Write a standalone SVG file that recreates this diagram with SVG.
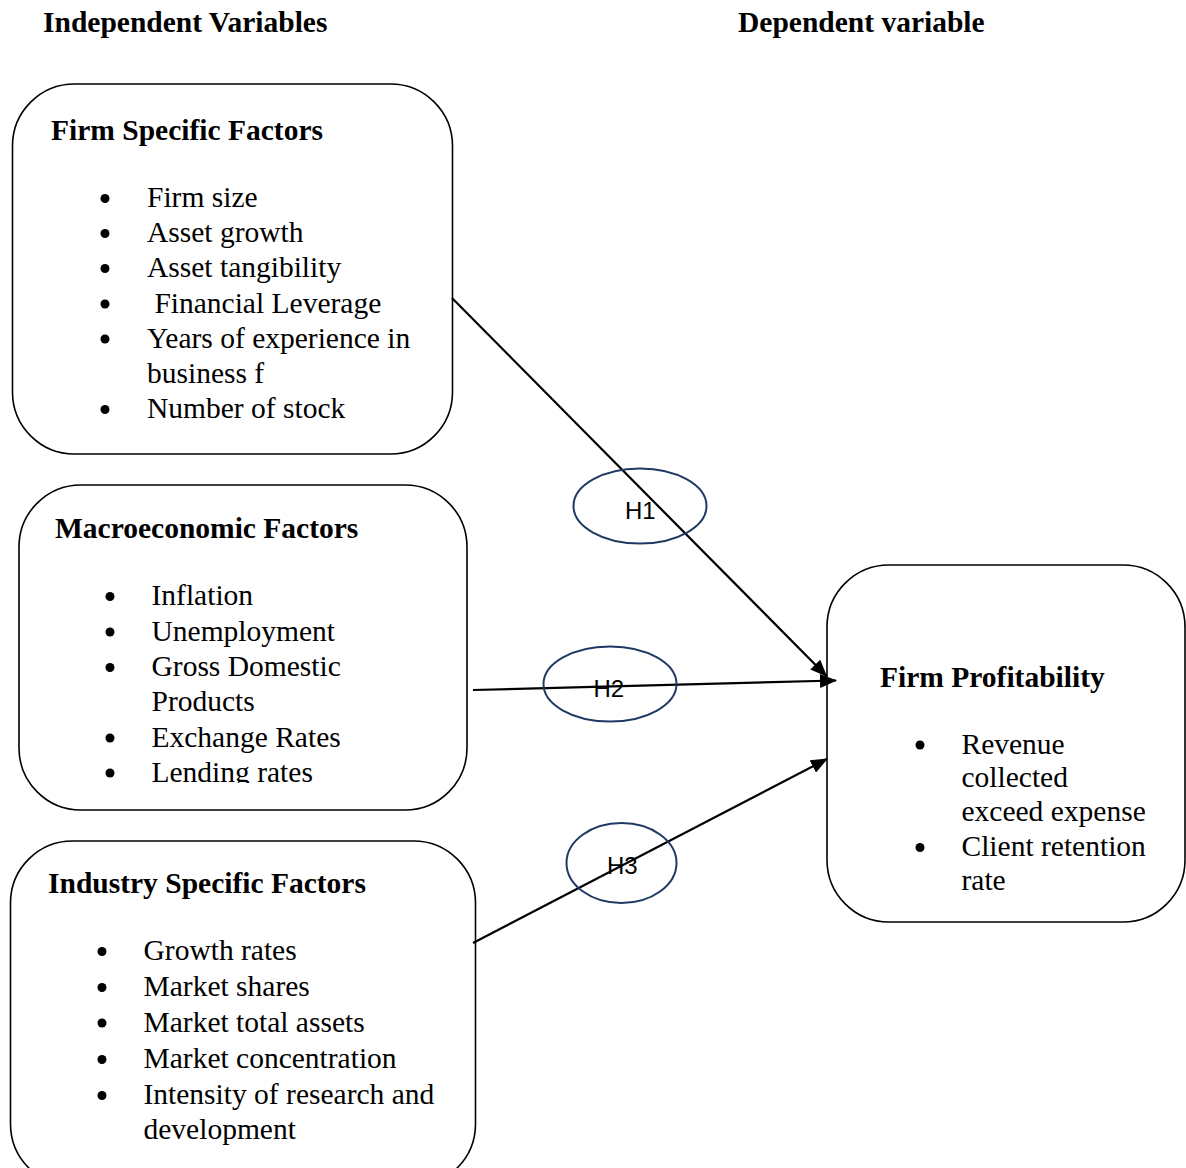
<svg xmlns="http://www.w3.org/2000/svg" width="1186" height="1168" viewBox="0 0 1186 1168">
<style>
.box{fill:none;stroke:#000;stroke-width:1.6}
.t{font-family:"Liberation Serif","Times New Roman",serif;font-size:29.5px;fill:#000}
.b{font-weight:bold}
.h{font-family:"Liberation Sans",Arial,sans-serif;font-size:24px;fill:#000}
.ell{fill:none;stroke:#1f3864;stroke-width:2}
.con{fill:none;stroke:#000;stroke-width:2.2}
.dot{fill:#000}
</style>
<defs>
<marker id="arr" viewBox="0 0 17 14" refX="16" refY="7" markerWidth="17" markerHeight="14" markerUnits="userSpaceOnUse" orient="auto">
<path d="M0,0 L17,7 L0,14 z" fill="#000"/>
</marker>
<clipPath id="clipMacro"><rect x="0" y="480" width="480" height="303"/></clipPath>
</defs>
<rect width="1186" height="1168" fill="#fff"/>
<text class="t b" x="43" y="31.5">Independent Variables</text>
<text class="t b" x="738" y="31.5">Dependent variable</text>

<g id="firm-specific">
<rect class="box" x="12.5" y="84" width="440" height="370" rx="62" ry="62"/>
<text class="t b" x="51" y="140">Firm Specific Factors</text>
<circle class="dot" cx="105" cy="198.5" r="4.5"/>
<text class="t" x="147" y="207">Firm size</text>
<circle class="dot" cx="105" cy="233.5" r="4.5"/>
<text class="t" x="147" y="242">Asset growth</text>
<circle class="dot" cx="105" cy="268.5" r="4.5"/>
<text class="t" x="147" y="277">Asset tangibility</text>
<circle class="dot" cx="105" cy="304" r="4.5"/>
<text class="t" x="147" y="312.5" xml:space="preserve"> Financial Leverage</text>
<circle class="dot" cx="105" cy="339" r="4.5"/>
<text class="t" x="147" y="347.5">Years of experience in</text>
<text class="t" x="147" y="382.5">business f</text>
<circle class="dot" cx="105" cy="409.5" r="4.5"/>
<text class="t" x="147" y="418">Number of stock</text>
</g>

<g id="macroeconomic">
<rect class="box" x="19" y="485" width="448" height="325" rx="62" ry="62"/>
<text class="t b" x="55" y="538">Macroeconomic Factors</text>
<circle class="dot" cx="110" cy="596.5" r="4.5"/>
<text class="t" x="151.5" y="605">Inflation</text>
<circle class="dot" cx="110" cy="632" r="4.5"/>
<text class="t" x="151.5" y="640.5">Unemployment</text>
<circle class="dot" cx="110" cy="667.5" r="4.5"/>
<text class="t" x="151.5" y="676">Gross Domestic</text>
<text class="t" x="151.5" y="710.5">Products</text>
<circle class="dot" cx="110" cy="738" r="4.5"/>
<text class="t" x="151.5" y="746.5">Exchange Rates</text>
<g clip-path="url(#clipMacro)">
<circle class="dot" cx="110" cy="773" r="4.5"/>
<text class="t" x="151.5" y="781.5">Lending rates</text>
</g>
</g>

<g id="industry-specific">
<rect class="box" x="10.5" y="841" width="465" height="345" rx="62" ry="62"/>
<text class="t b" x="48" y="893">Industry Specific Factors</text>
<circle class="dot" cx="102" cy="951.5" r="4.5"/>
<text class="t" x="143.5" y="960">Growth rates</text>
<circle class="dot" cx="102" cy="987.5" r="4.5"/>
<text class="t" x="143.5" y="996">Market shares</text>
<circle class="dot" cx="102" cy="1023" r="4.5"/>
<text class="t" x="143.5" y="1031.5">Market total assets</text>
<circle class="dot" cx="102" cy="1059.5" r="4.5"/>
<text class="t" x="143.5" y="1068">Market concentration</text>
<circle class="dot" cx="102" cy="1095.5" r="4.5"/>
<text class="t" x="143.5" y="1104">Intensity of research and</text>
<text class="t" x="143.5" y="1138.5">development</text>
</g>

<g id="firm-profitability">
<rect class="box" x="827" y="565" width="358" height="357" rx="62" ry="62"/>
<text class="t b" x="880" y="687">Firm Profitability</text>
<circle class="dot" cx="920" cy="745" r="4.5"/>
<text class="t" x="961.5" y="753.5">Revenue</text>
<text class="t" x="961.5" y="787">collected</text>
<text class="t" x="961.5" y="821">exceed expense</text>
<circle class="dot" cx="920" cy="847.5" r="4.5"/>
<text class="t" x="961.5" y="856">Client retention</text>
<text class="t" x="961.5" y="890">rate</text>
</g>

<g id="connectors">
<line class="con" x1="452" y1="298" x2="826.5" y2="676" marker-end="url(#arr)"/>
<line class="con" x1="473" y1="690" x2="836" y2="680.5" marker-end="url(#arr)"/>
<line class="con" x1="473" y1="943" x2="827" y2="759" marker-end="url(#arr)"/>
</g>

<g id="h1">
<ellipse class="ell" cx="640" cy="506" rx="66.5" ry="37.5"/>
<text class="h" x="625" y="518.5">H1</text>
</g>
<g id="h2">
<ellipse class="ell" cx="610" cy="684" rx="66.5" ry="37.5"/>
<text class="h" x="593.5" y="697">H2</text>
</g>
<g id="h3">
<ellipse class="ell" cx="621.5" cy="863" rx="55" ry="40"/>
<text class="h" x="607" y="873.5">H3</text>
</g>
</svg>
